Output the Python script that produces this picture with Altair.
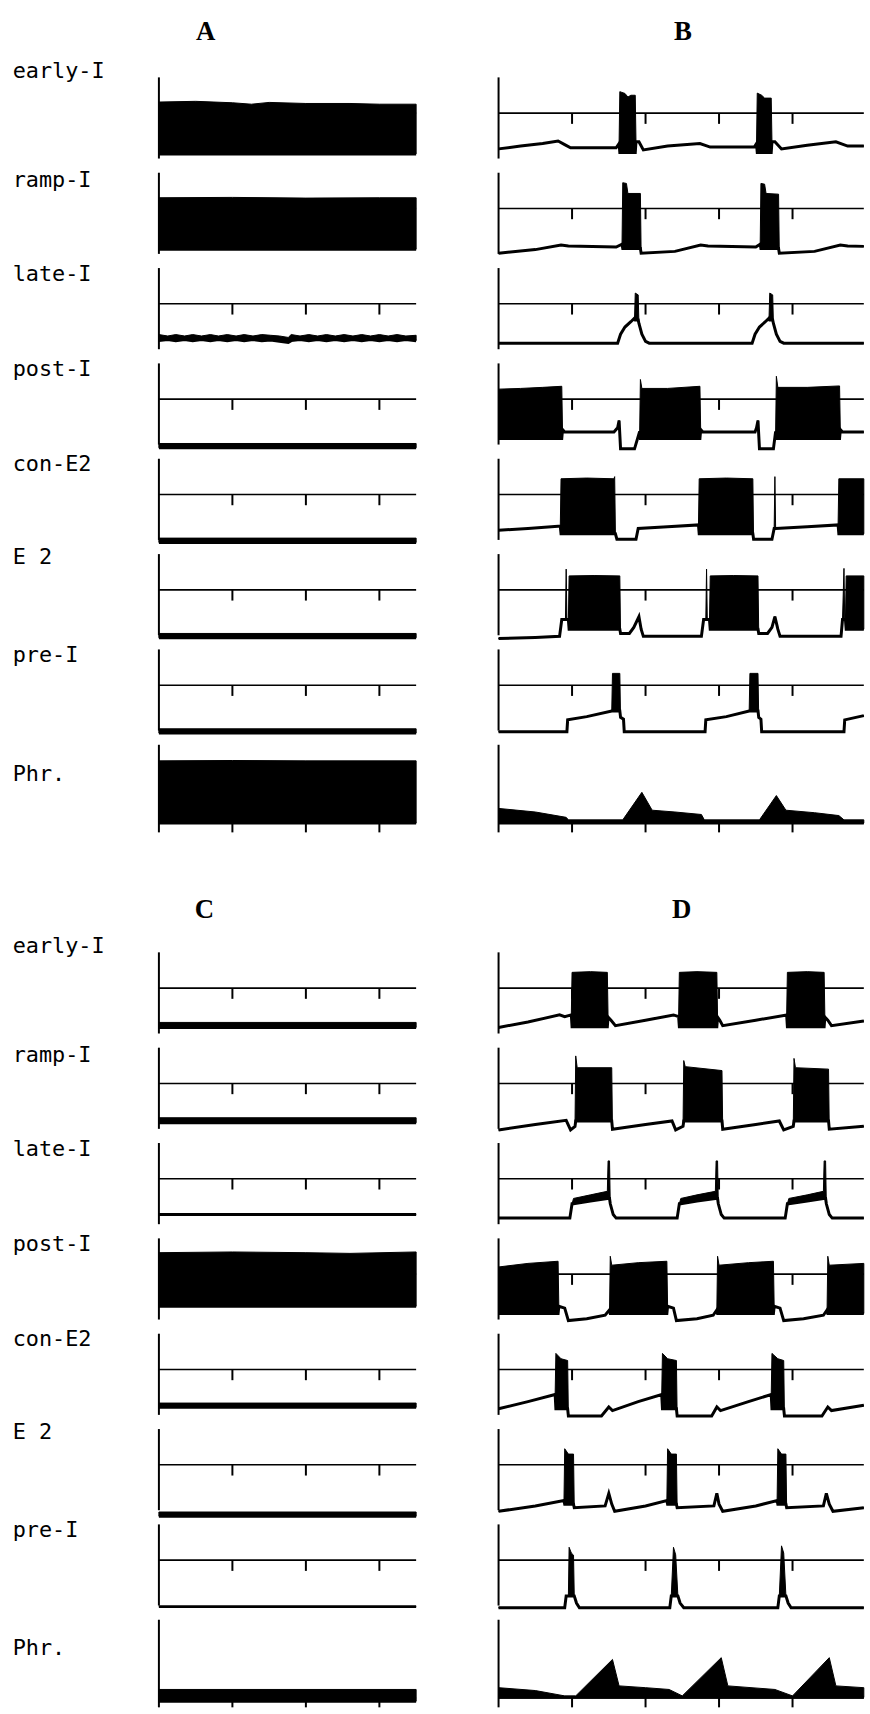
import altair as alt
import pandas as pd

# ---------------------------------------------------------------------------
# Simulated activity of the respiratory network: 8 neuron populations, 4 runs.
# Each trace is a list of breakpoints (t, v) or (t, low, high):
#   v = 0 resting level, v = 1 threshold line, v = 2 top of the trace axis.
#   (t, low, high) marks a spiking burst whose envelope spans low..high.
# ---------------------------------------------------------------------------
ROW_NAMES = ["early-I", "ramp-I", "late-I", "post-I", "con-E2", "E 2", "pre-I", "Phr."]
TICK_TIMES = [1, 2, 3, 4]

# ---- panel A --------------------------------------------------------------
a_early = [(0, -0.14, 1.31), (0.5, -0.14, 1.33), (1.0, -0.14, 1.29), (1.26, -0.14, 1.25),
           (1.5, -0.14, 1.3), (2.0, -0.14, 1.27), (2.6, -0.14, 1.27), (3.0, -0.14, 1.25),
           (3.5, -0.14, 1.25)]
a_ramp = [(0, -0.14, 1.3), (1.0, -0.14, 1.31), (2.0, -0.14, 1.29), (3.0, -0.14, 1.3),
          (3.5, -0.14, 1.3)]
a_late = [(0, -0.03, 0.14), (0.12, 0.0, 0.1), (0.23, -0.03, 0.14), (0.35, 0.0, 0.1),
          (0.46, -0.03, 0.14), (0.58, 0.0, 0.1), (0.7, -0.03, 0.14), (0.81, 0.0, 0.1),
          (0.93, -0.03, 0.14), (1.05, 0.0, 0.1), (1.16, -0.03, 0.14), (1.28, 0.0, 0.1),
          (1.4, -0.03, 0.14), (1.52, -0.01, 0.12), (1.64, -0.05, 0.1), (1.76, -0.08, 0.06),
          (1.8, -0.03, 0.14), (1.92, 0.0, 0.1), (2.04, -0.03, 0.14), (2.16, 0.0, 0.1),
          (2.28, -0.03, 0.14), (2.4, 0.0, 0.1), (2.52, -0.03, 0.14), (2.64, 0.0, 0.1),
          (2.76, -0.03, 0.14), (2.88, 0.0, 0.1), (3.0, -0.03, 0.14), (3.12, 0.0, 0.1),
          (3.24, -0.03, 0.14), (3.36, 0.0, 0.1), (3.5, -0.03, 0.12)]
a_post = [(0, -0.36, -0.24), (3.5, -0.36, -0.24)]
a_con = [(0, -0.34, -0.22), (3.5, -0.34, -0.22)]
a_e2 = [(0, -0.34, -0.22), (3.5, -0.34, -0.22)]
a_pre = [(0, -0.34, -0.22), (3.5, -0.34, -0.22)]
a_phr = [(0, -0.19, 1.55), (1.0, -0.19, 1.56), (2.0, -0.19, 1.55), (3.5, -0.19, 1.55)]

# ---- panel B --------------------------------------------------------------
b_early = [(0, 0.0), (0.3, 0.08), (0.6, 0.15), (0.81, 0.22), (0.9, 0.12), (0.98, 0.03),
           (1.6, 0.03), (1.64, 0.15), (1.65, -0.1, 1.6), (1.72, -0.1, 1.55), (1.76, -0.1, 1.45),
           (1.8, -0.1, 1.5), (1.86, -0.1, 1.5), (1.87, 0.2), (1.91, 0.2), (1.97, -0.03),
           (2.3, 0.08), (2.74, 0.15), (2.88, 0.05), (3.48, 0.05), (3.51, 0.15),
           (3.52, -0.1, 1.56), (3.58, -0.1, 1.5), (3.62, -0.1, 1.42), (3.71, -0.1, 1.42),
           (3.72, 0.2), (3.76, 0.2), (3.85, 0.0), (4.2, 0.1), (4.59, 0.2), (4.75, 0.08),
           (4.97, 0.08)]
b_ramp = [(0, -0.25), (0.5, -0.15), (0.85, -0.02), (0.95, -0.05), (1.6, -0.08), (1.68, 0.0),
          (1.69, -0.12, 1.72), (1.74, -0.12, 1.7), (1.76, -0.12, 1.42), (1.93, -0.12, 1.42),
          (1.94, -0.25), (2.4, -0.2), (2.75, -0.02), (2.85, -0.05), (3.5, -0.08), (3.56, 0.0),
          (3.57, -0.12, 1.7), (3.62, -0.12, 1.68), (3.64, -0.12, 1.42), (3.81, -0.12, 1.4),
          (3.82, -0.25), (4.3, -0.2), (4.65, -0.02), (4.75, -0.05), (4.97, -0.06)]
b_late = [(0, -0.1), (1.62, -0.1), (1.66, 0.15), (1.72, 0.35), (1.8, 0.5), (1.85, 0.6),
          (1.86, 0.55, 1.3), (1.9, 0.55, 1.25), (1.91, 0.45), (1.95, 0.15), (2.0, -0.05),
          (2.05, -0.1), (3.45, -0.1), (3.49, 0.15), (3.55, 0.35), (3.63, 0.5), (3.68, 0.6),
          (3.69, 0.55, 1.3), (3.73, 0.55, 1.25), (3.74, 0.45), (3.78, 0.15), (3.83, -0.05),
          (3.88, -0.1), (4.97, -0.1)]
b_post = [(0, -0.1, 1.28), (0.3, -0.1, 1.3), (0.6, -0.1, 1.33), (0.86, -0.1, 1.36),
          (0.87, 0.15), (0.9, 0.08), (1.57, 0.08), (1.62, 0.2), (1.64, 0.4), (1.66, -0.39),
          (1.85, -0.39), (1.92, 0.1), (1.93, -0.1, 1.55), (1.95, -0.1, 1.3), (2.3, -0.1, 1.3),
          (2.74, -0.1, 1.36), (2.75, 0.15), (2.78, 0.08), (3.49, 0.08), (3.51, 0.2),
          (3.53, 0.4), (3.55, -0.39), (3.74, -0.39), (3.77, 0.1), (3.78, -0.1, 1.64),
          (3.8, -0.1, 1.33), (4.2, -0.1, 1.33), (4.64, -0.1, 1.37), (4.65, 0.15),
          (4.68, 0.08), (4.97, 0.08)]
b_con = [(0, 0.0), (0.4, 0.05), (0.81, 0.11), (0.84, 0.11), (0.85, -0.1, 1.44),
         (1.2, -0.1, 1.46), (1.57, -0.1, 1.44), (1.58, -0.1, 1.5), (1.59, -0.1), (1.61, -0.25),
         (1.87, -0.25), (1.9, 0.05), (2.3, 0.1), (2.72, 0.15), (2.73, -0.1, 1.44),
         (3.1, -0.1, 1.46), (3.46, -0.1, 1.44), (3.47, -0.25), (3.72, -0.25), (3.75, 0.05),
         (3.76, 0.05, 1.5), (3.77, 0.05), (4.2, 0.1), (4.62, 0.15), (4.63, -0.1, 1.44),
         (4.97, -0.1, 1.44)]
b_e2 = [(0, -0.36), (0.5, -0.33), (0.83, -0.3), (0.86, 0.17), (0.91, 0.17), (0.92, 0.17, 1.58),
        (0.93, 0.17), (0.95, 0.17), (0.96, -0.1, 1.39), (1.3, -0.1, 1.4), (1.65, -0.1, 1.39),
        (1.66, -0.22), (1.78, -0.22), (1.84, -0.05), (1.91, 0.25), (1.94, -0.1), (1.97, -0.3),
        (2.76, -0.3), (2.79, 0.17), (2.82, 0.17), (2.83, 0.17, 1.58), (2.84, 0.17),
        (2.87, 0.17), (2.88, -0.1, 1.39), (3.2, -0.1, 1.4), (3.53, -0.1, 1.39), (3.54, -0.22),
        (3.66, -0.22), (3.72, -0.05), (3.76, 0.25), (3.8, -0.1), (3.83, -0.3), (4.66, -0.3),
        (4.68, 0.17), (4.7, 0.17, 1.6), (4.71, 0.17), (4.72, 0.17), (4.73, -0.1, 1.39),
        (4.97, -0.1, 1.39)]
b_pre = [(0, -0.3), (0.93, -0.3), (0.94, 0.03), (1.2, 0.12), (1.54, 0.28), (1.55, 0.28, 1.33),
         (1.65, 0.28, 1.33), (1.66, 0.1), (1.7, 0.05), (1.71, -0.3), (2.81, -0.3), (2.82, 0.03),
         (3.1, 0.12), (3.41, 0.28), (3.42, 0.28, 1.33), (3.53, 0.28, 1.33), (3.54, 0.1),
         (3.57, 0.05), (3.58, -0.3), (4.7, -0.3), (4.71, 0.03), (4.97, 0.15)]
b_phr = [(0, -0.19, 0.22), (0.5, -0.19, 0.12), (0.92, -0.19, -0.03), (0.95, -0.19, -0.1),
         (1.69, -0.19, -0.1), (1.95, -0.19, 0.67), (2.09, -0.19, 0.17), (2.4, -0.19, 0.12),
         (2.76, -0.19, 0.05), (2.8, -0.19, -0.1), (3.55, -0.19, -0.1), (3.78, -0.19, 0.58),
         (3.91, -0.19, 0.17), (4.3, -0.19, 0.1), (4.63, -0.19, 0.02), (4.7, -0.19, -0.1),
         (4.97, -0.19, -0.1)]

# ---- panel C --------------------------------------------------------------
c_early = [(0, -0.1, 0.04), (3.5, -0.1, 0.04)]
c_ramp = [(0, -0.1, 0.04), (3.5, -0.1, 0.04)]
c_late = [(0, 0.0), (3.5, 0.0)]
c_post = [(0, 0.1, 1.6), (1.0, 0.1, 1.62), (2.0, 0.1, 1.6), (2.6, 0.1, 1.58), (3.5, 0.1, 1.62)]
c_con = [(0, -0.06, 0.06), (3.5, -0.06, 0.06)]
c_e2 = [(0, -0.44, -0.32), (3.5, -0.44, -0.32)]
c_pre = [(0, -0.3), (3.5, -0.3)]
c_phr = [(0, -0.28, 0.05), (3.5, -0.28, 0.05)]

# ---- panel D --------------------------------------------------------------
d_early = [(0, -0.1), (0.4, 0.05), (0.83, 0.25), (0.9, 0.2), (0.99, 0.25), (1.0, -0.08, 1.44),
           (1.25, -0.08, 1.46), (1.48, -0.08, 1.44), (1.49, 0.19), (1.53, 0.1), (1.59, -0.05),
           (2.0, 0.1), (2.38, 0.25), (2.45, 0.2), (2.46, -0.08, 1.44), (2.7, -0.08, 1.46),
           (2.97, -0.08, 1.44), (2.98, 0.19), (3.01, 0.1), (3.05, -0.05), (3.5, 0.1),
           (3.92, 0.25), (3.93, -0.08, 1.44), (4.2, -0.08, 1.46), (4.43, -0.08, 1.44),
           (4.44, 0.19), (4.48, 0.1), (4.53, -0.05), (4.97, 0.08)]
d_ramp = [(0, -0.3), (0.5, -0.15), (0.92, -0.03), (0.98, -0.3), (1.04, -0.2),
          (1.05, -0.05, 1.77), (1.07, -0.05, 1.44), (1.54, -0.05, 1.44), (1.55, -0.28),
          (2.0, -0.15), (2.36, -0.05), (2.41, -0.3), (2.51, -0.2), (2.52, -0.05, 1.64),
          (2.54, -0.05, 1.47), (3.04, -0.05, 1.36), (3.05, -0.28), (3.5, -0.15), (3.82, -0.05),
          (3.88, -0.3), (4.01, -0.2), (4.02, -0.05, 1.7), (4.04, -0.05, 1.44),
          (4.49, -0.05, 1.4), (4.5, -0.28), (4.97, -0.2)]
d_late = [(0, -0.1), (0.97, -0.1), (1.0, 0.3), (1.02, 0.3, 0.45), (1.25, 0.38, 0.55),
          (1.48, 0.45, 0.65), (1.49, 0.45, 1.5), (1.51, 0.45, 1.5), (1.52, 0.3), (1.56, 0.0),
          (1.6, -0.1), (2.43, -0.1), (2.46, 0.3), (2.48, 0.3, 0.45), (2.7, 0.38, 0.55),
          (2.95, 0.45, 0.65), (2.96, 0.45, 1.5), (2.98, 0.45, 1.5), (2.99, 0.3), (3.03, 0.0),
          (3.07, -0.1), (3.9, -0.1), (3.93, 0.3), (3.95, 0.3, 0.45), (4.2, 0.38, 0.55),
          (4.42, 0.45, 0.65), (4.43, 0.45, 1.5), (4.45, 0.45, 1.5), (4.46, 0.3), (4.5, 0.0),
          (4.54, -0.1), (4.97, -0.1)]
d_post = [(0, -0.1, 1.2), (0.4, -0.1, 1.3), (0.81, -0.1, 1.36), (0.82, 0.1), (0.9, 0.05),
          (0.95, -0.3), (1.2, -0.25), (1.45, -0.15), (1.51, 0.0), (1.52, -0.1, 1.5),
          (1.54, -0.1, 1.25), (1.9, -0.1, 1.32), (2.29, -0.1, 1.36), (2.3, 0.1), (2.38, 0.05),
          (2.42, -0.3), (2.7, -0.25), (2.92, -0.15), (2.97, 0.0), (2.98, -0.1, 1.5),
          (3.0, -0.1, 1.25), (3.4, -0.1, 1.32), (3.74, -0.1, 1.36), (3.75, 0.1), (3.83, 0.05),
          (3.88, -0.3), (4.15, -0.25), (4.42, -0.15), (4.47, 0.0), (4.48, -0.1, 1.5),
          (4.5, -0.1, 1.25), (4.97, -0.1, 1.3)]
d_con = [(0, -0.1), (0.4, 0.1), (0.77, 0.3), (0.78, -0.1, 1.45), (0.85, -0.1, 1.3),
         (0.94, -0.1, 1.25), (0.95, -0.3), (1.4, -0.3), (1.5, -0.05), (1.55, -0.15),
         (1.9, 0.1), (2.22, 0.3), (2.23, -0.1, 1.45), (2.3, -0.1, 1.3), (2.42, -0.1, 1.25),
         (2.43, -0.3), (2.9, -0.3), (2.97, -0.05), (3.02, -0.15), (3.4, 0.1), (3.71, 0.3),
         (3.72, -0.1, 1.45), (3.8, -0.1, 1.3), (3.88, -0.1, 1.25), (3.89, -0.3), (4.4, -0.3),
         (4.48, -0.05), (4.53, -0.15), (4.97, 0.0)]
d_e2 = [(0, -0.3), (0.5, -0.15), (0.89, 0.0), (0.9, -0.1, 1.45), (0.95, -0.1, 1.3),
        (1.02, -0.1, 1.3), (1.03, -0.2), (1.45, -0.15), (1.5, 0.2), (1.54, -0.1), (1.58, -0.3),
        (2.0, -0.15), (2.29, 0.0), (2.3, -0.1, 1.45), (2.35, -0.1, 1.3), (2.42, -0.1, 1.3),
        (2.43, -0.2), (2.93, -0.15), (2.97, 0.2), (3.0, -0.1), (3.05, -0.3), (3.5, -0.15),
        (3.79, 0.0), (3.8, -0.1, 1.45), (3.85, -0.1, 1.3), (3.91, -0.1, 1.3), (3.92, -0.2),
        (4.42, -0.15), (4.46, 0.2), (4.5, -0.1), (4.55, -0.3), (4.97, -0.2)]
d_pre = [(0, -0.33), (0.9, -0.33), (0.92, 0.0), (0.95, 0.0), (0.96, 0.0, 1.36),
         (0.99, 0.0, 1.2), (1.02, 0.0, 1.14), (1.03, 0.0), (1.06, -0.2), (1.1, -0.33),
         (2.33, -0.33), (2.35, 0.0), (2.38, 0.0, 1.36), (2.41, 0.0, 1.15), (2.44, 0.0),
         (2.47, -0.2), (2.52, -0.33), (3.8, -0.33), (3.82, 0.0), (3.85, 0.0, 1.4),
         (3.88, 0.0, 1.2), (3.91, 0.0), (3.94, -0.2), (3.98, -0.33), (4.97, -0.33)]
d_phr = [(0, -0.17, 0.1), (0.5, -0.17, 0.02), (0.9, -0.17, -0.13), (1.05, -0.17, -0.13),
         (1.55, -0.17, 0.89), (1.64, -0.17, 0.15), (2.0, -0.17, 0.1), (2.32, -0.17, 0.05),
         (2.5, -0.17, -0.13), (3.03, -0.17, 0.94), (3.12, -0.17, 0.15), (3.76, -0.17, 0.05),
         (4.0, -0.17, -0.13), (4.5, -0.17, 0.94), (4.59, -0.17, 0.15), (4.97, -0.17, 0.1)]

TRACES = {
    "A": [a_early, a_ramp, a_late, a_post, a_con, a_e2, a_pre, a_phr],
    "B": [b_early, b_ramp, b_late, b_post, b_con, b_e2, b_pre, b_phr],
    "C": [c_early, c_ramp, c_late, c_post, c_con, c_e2, c_pre, c_phr],
    "D": [d_early, d_ramp, d_late, d_post, d_con, d_e2, d_pre, d_phr],
}
PANEL_END = {"A": 3.5, "B": 4.97, "C": 3.5, "D": 4.97}

# label baselines (trace units above each row's rest level)
LABEL_LEVEL = [1.97, 1.61, 1.65, 1.65, 1.65, 1.72, 1.65, 1.0]
LABEL_T = -1.99
TITLE_POS = {"A": (0.635, 3.26), "B": (2.51, 3.26), "C": (0.62, 3.19), "D": (2.49, 3.19)}

# ---- layout ---------------------------------------------------------------
ROW_STEP = 96 / 36          # distance between rows in trace units
PX_T = 74                   # pixels per time unit
PX_V = 36                   # pixels per trace unit
LEFT_W, RIGHT_W = 502, 368
TOP_H, BOT_H = 880, 834
THR_TOP, THR_BOT = 108, 109  # pixel row of the first threshold line inside each half


def stack(row, v):
    return v - row * ROW_STEP


def trace_frame(panel):
    recs = []
    for r, pts in enumerate(TRACES[panel]):
        for i, p in enumerate(pts):
            lo, hi = (p[1], p[1]) if len(p) == 2 else (p[1], p[2])
            recs.append({"trace": f"{panel}{r}", "i": i, "t": p[0],
                         "lo": stack(r, lo), "hi": stack(r, hi)})
    return pd.DataFrame(recs)


def frame_parts(panel):
    t_end = PANEL_END[panel]
    axes, thr, ticks = [], [], []
    for r in range(8):
        bottom = -0.45 if r == 7 else -0.27
        axes.append({"t": 0, "g0": stack(r, bottom), "g1": stack(r, 2.0)})
        if r < 7:
            thr.append({"t0": 0, "t1": t_end, "g": stack(r, 1.0)})
            for k in TICK_TIMES:
                if k < t_end:
                    ticks.append({"t": k, "g0": stack(r, 1.0), "g1": stack(r, 0.7)})
        else:
            thr.append({"t0": 0, "t1": t_end, "g": stack(r, -0.19)})
            for k in TICK_TIMES:
                if k < t_end:
                    ticks.append({"t": k, "g0": stack(r, -0.19), "g1": stack(r, -0.45)})
    return pd.DataFrame(axes), pd.DataFrame(thr), pd.DataFrame(ticks)


def panel_chart(panel, left, top):
    width = LEFT_W if left else RIGHT_W
    height = TOP_H if top else BOT_H
    thr_px = THR_TOP if top else THR_BOT
    x0 = -160 / PX_T if left else 0.0
    xs = alt.Scale(domain=[x0, x0 + width / PX_T], nice=False, zero=False)
    g_top = 1 + thr_px / PX_V
    ys = alt.Scale(domain=[g_top - height / PX_V, g_top], nice=False, zero=False)

    axes, thr, ticks = frame_parts(panel)
    tr = trace_frame(panel)

    ax_layer = alt.Chart(axes).mark_rule(color="black", strokeWidth=2).encode(
        x=alt.X("t:Q", scale=xs, axis=None), y=alt.Y("g0:Q", scale=ys, axis=None), y2="g1:Q")
    thr_layer = alt.Chart(thr).mark_rule(color="black", strokeWidth=1.6).encode(
        x=alt.X("t0:Q", scale=xs, axis=None), x2="t1:Q", y=alt.Y("g:Q", scale=ys, axis=None))
    tick_layer = alt.Chart(ticks).mark_rule(color="black", strokeWidth=2).encode(
        x=alt.X("t:Q", scale=xs, axis=None), y=alt.Y("g0:Q", scale=ys, axis=None), y2="g1:Q")
    # burst envelopes: filled band between low and high (path sorted by time)
    area_layer = alt.Chart(tr).mark_area(color="black", stroke="black", strokeWidth=1,
                                          interpolate="linear").encode(
        x=alt.X("t:Q", scale=xs, axis=None), y=alt.Y("lo:Q", scale=ys, axis=None), y2="hi:Q",
        detail="trace:N")
    # membrane potential line
    line_layer = alt.Chart(tr).mark_line(color="black", strokeWidth=3,
                                         interpolate="linear").encode(
        x=alt.X("t:Q", scale=xs, axis=None), y=alt.Y("lo:Q", scale=ys, axis=None),
        detail="trace:N", order="i:Q")
    tx, ty = TITLE_POS[panel]
    title_layer = alt.Chart(pd.DataFrame([{"name": panel, "t": tx, "g": ty}])).mark_text(
        font="Liberation Serif", fontSize=27, fontWeight="bold", color="black",
        align="center", baseline="middle").encode(
        x=alt.X("t:Q", scale=xs, axis=None), y=alt.Y("g:Q", scale=ys, axis=None), text="name:N")
    layers = [ax_layer, thr_layer, tick_layer, area_layer, line_layer, title_layer]

    if left:
        lab = pd.DataFrame([{"name": n, "t": LABEL_T, "g": stack(r, LABEL_LEVEL[r])}
                            for r, n in enumerate(ROW_NAMES)])
        layers.append(alt.Chart(lab).mark_text(
            font="DejaVu Sans Mono", fontSize=22, color="black", align="left",
            baseline="alphabetic").encode(
            x=alt.X("t:Q", scale=xs, axis=None), y=alt.Y("g:Q", scale=ys, axis=None),
            text="name:N"))
    return alt.layer(*layers).properties(width=width, height=height)


chart = alt.concat(
    panel_chart("A", True, True), panel_chart("B", False, True),
    panel_chart("C", True, False), panel_chart("D", False, False),
    columns=2, spacing=0, bounds="flush", align="each",
).properties(padding=0, background="white").configure_view(stroke=None)

chart.save("out.html", embed_options={"renderer": "svg", "actions": False})
